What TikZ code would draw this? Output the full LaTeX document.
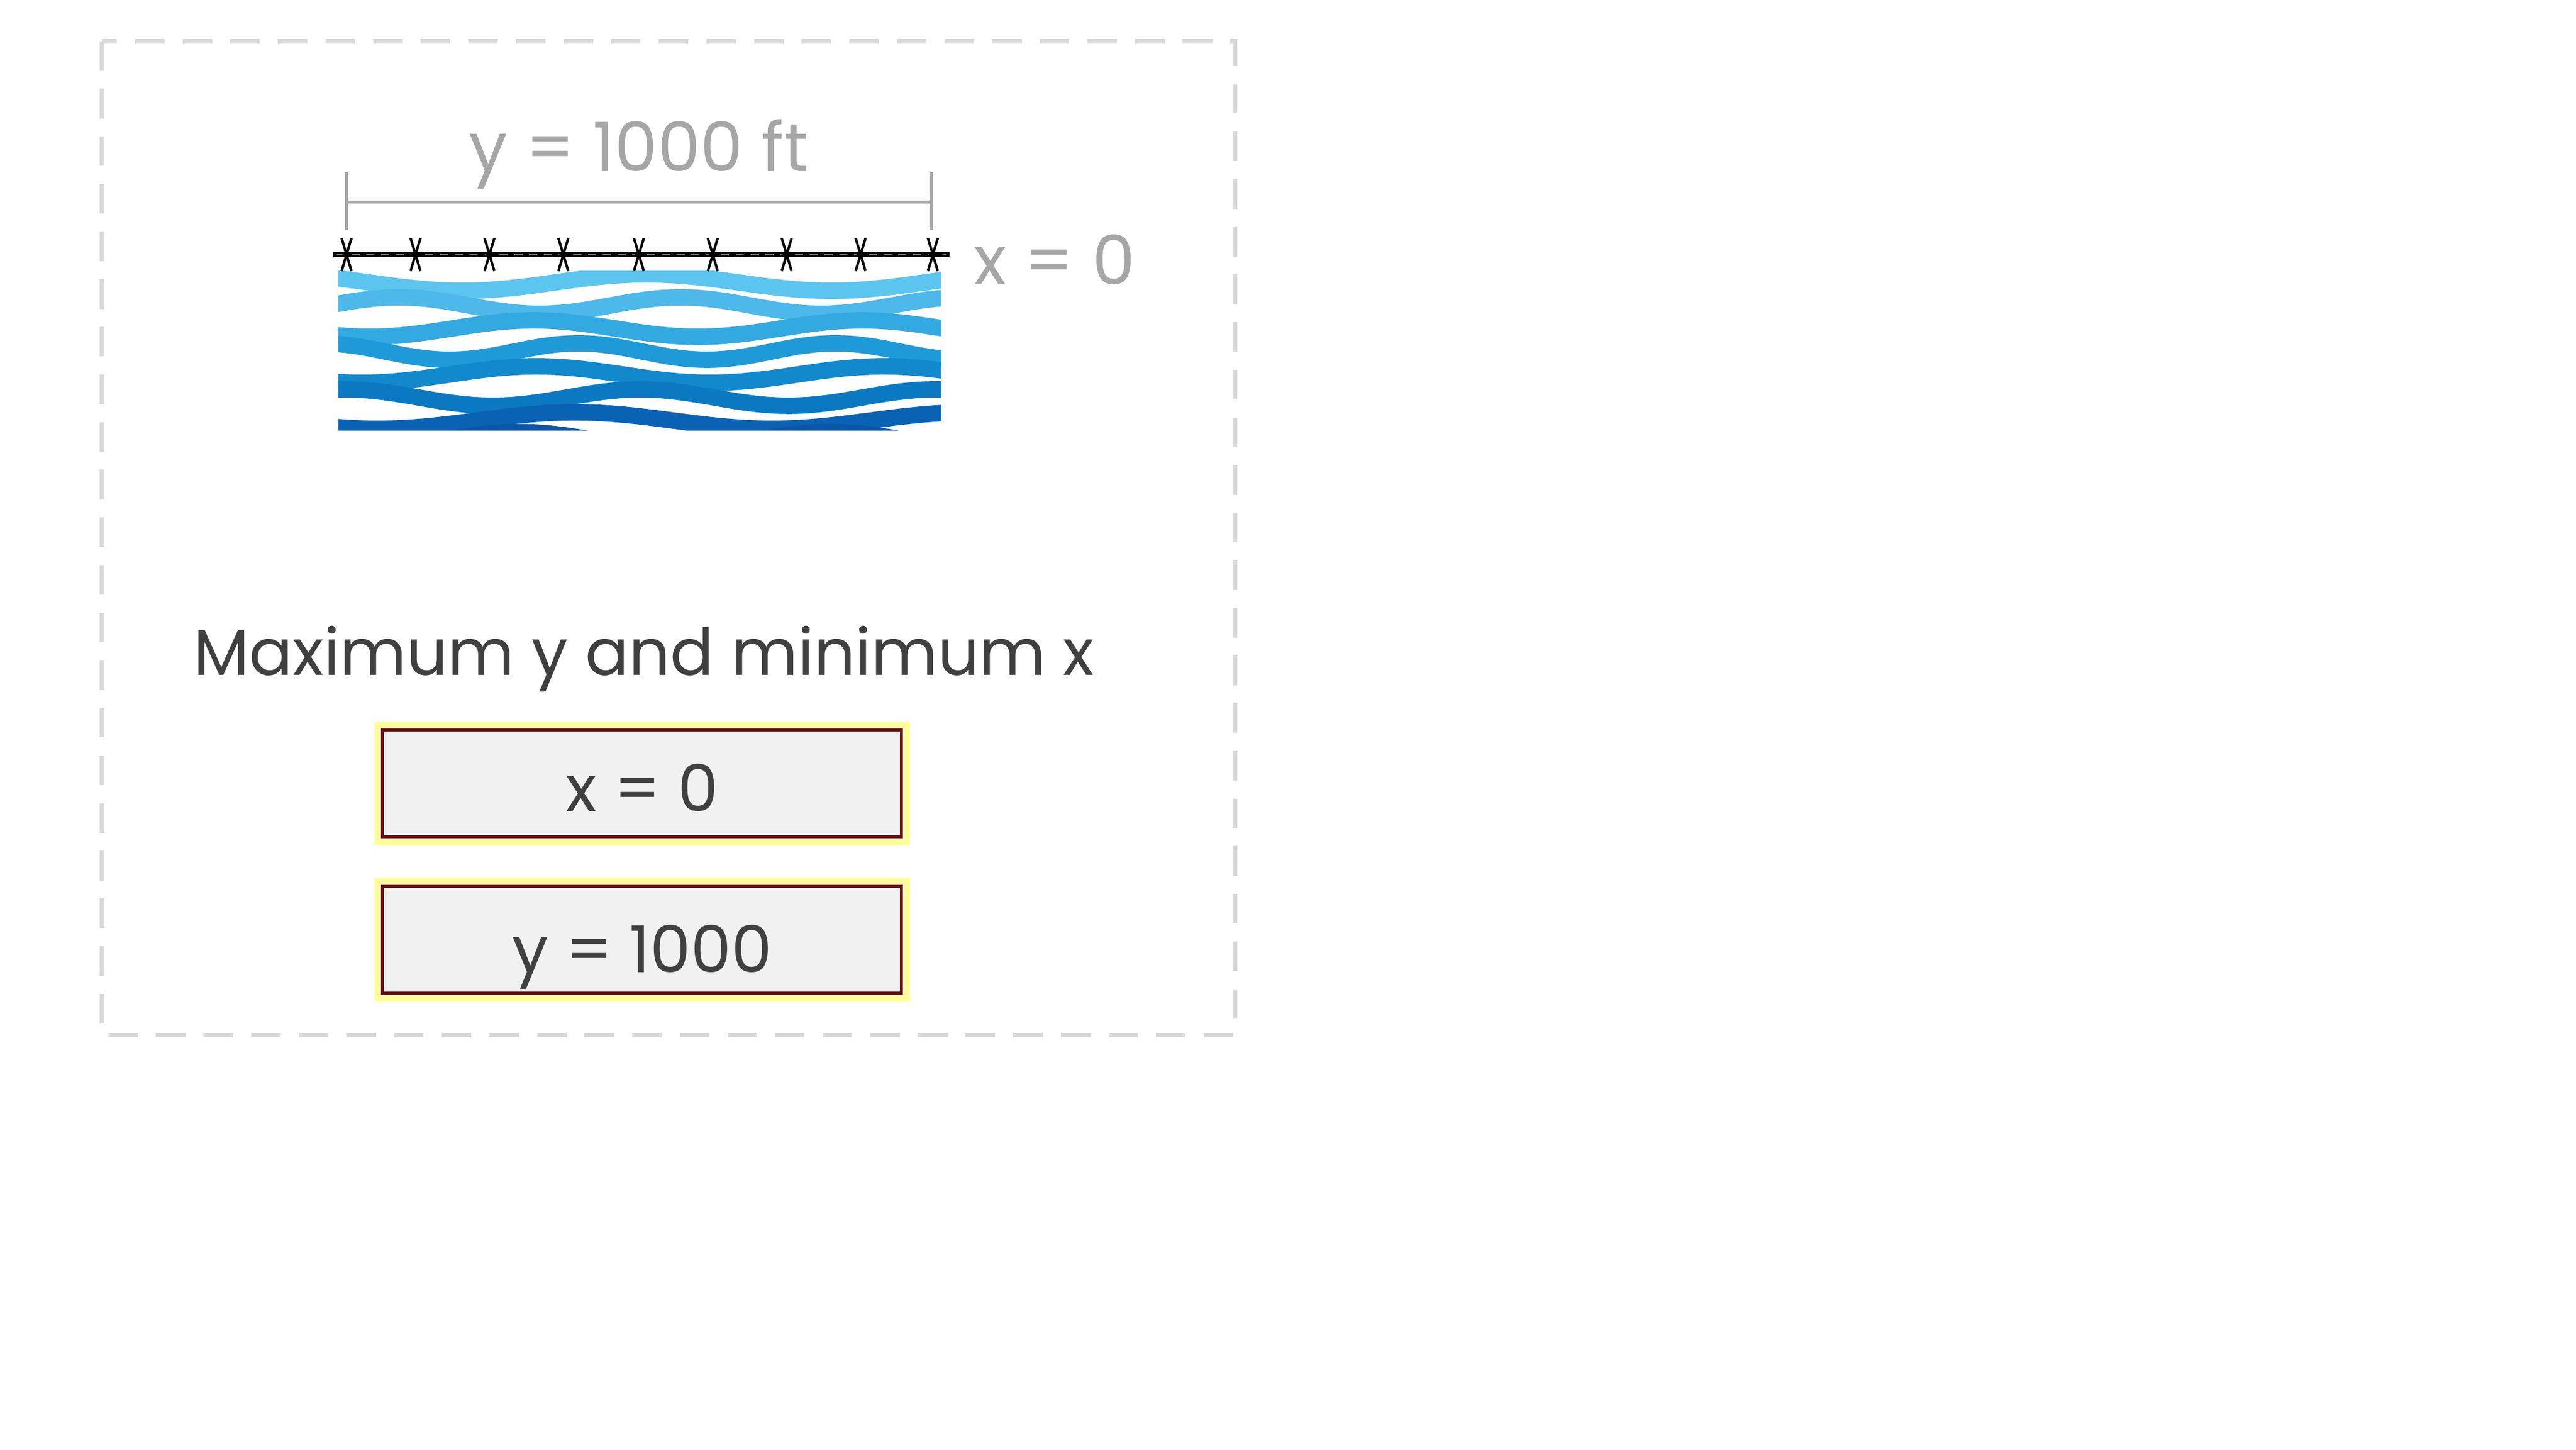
\documentclass[tikz,border=0pt]{standalone}
\usepackage{fontspec}
\setmainfont{Poppins}
\begin{document}
\begin{tikzpicture}[x=0.1cm,y=-0.1cm,
  lbl/.style={text=lightgray,font=\fontsize{118}{130}\selectfont,inner sep=0},
  dark/.style={text=txt,font=\fontsize{112}{130}\selectfont,inner sep=0},
  ansbox/.style={draw=boxred,line width=0.18cm,fill=boxfill,minimum width=31.6cm,minimum height=6.5cm},
  anstext/.style={text=txt,font=\fontsize{112}{130}\selectfont,inner sep=0,anchor=base},
  wave/.style={line width=1.0cm,line cap=round}]
\definecolor{lightgray}{HTML}{A6A6A6}
\definecolor{txt}{HTML}{404040}
\definecolor{boxred}{HTML}{700C02}
\definecolor{boxfill}{HTML}{F1F1F1}
\definecolor{glowy}{HTML}{FFFF99}
\definecolor{dashc}{HTML}{D9D9D9}
\useasboundingbox (0,0) rectangle (1568.5,882.3);
\draw[dashc,line width=0.28cm,dash pattern=on 1.8cm off 1.1cm] (62,25) rectangle (752,630);
% dimension
\node[lbl] (dimlbl) at (389,94) {y = 1000 ft};
\coordinate (dl) at (211,123); \coordinate (dr) at (567,123);
\draw[lightgray,line width=0.2cm] (dl) -- (dr);
\draw[lightgray,line width=0.2cm] (211,105) -- (211,140) (567,105) -- (567,140);
% water
\begin{scope}
\clip (206,165) rectangle (573,262);
\foreach \yy/\c/\ph/\f in {172/5BC5F0/0/1.6,186/4DB8EA/40/2.1,200/33A9E2/15/1.8,214/1F9AD8/60/2.3,228/1289CC/25/1.7,242/0B79C2/70/2.0,256/0A62B5/35/1.5,268/0A55A8/10/1.9}{
  \definecolor{wc}{HTML}{\c}
  \draw[wc,wave] plot[smooth,domain=196:585,samples=50] (\x,{\yy+5*sin(\x*\f+\ph*3)});
}
\end{scope}
% barbed wire
\coordinate (wl) at (203,155); \coordinate (wr) at (578,155);
\draw[black,line width=0.3cm] (wl) -- (wr);
\draw[gray,line width=0.12cm,dash pattern=on 0.5cm off 0.4cm] (205,155) -- (576,155);
\foreach \bx in {211,253,298,343,389,434,479,524,568}{
  \draw[black,line width=0.15cm] (\bx-3,145) -- (\bx+3,165) (\bx+3,145) -- (\bx-3,165);
  \fill[black] (\bx,155) ellipse (0.25cm and 0.2cm);
}
\node[lbl,anchor=west] (x0lbl) at (593,158) {x = 0};
\node[dark] (title) at (392,401) {Maximum y and minimum x};
\node[ansbox] (b1) at (391,477) {};
\draw[glowy,line width=0.35cm] ([shift={(-0.25cm,0.25cm)}]b1.north west) rectangle ([shift={(0.25cm,-0.25cm)}]b1.south east);
\node[ansbox] (b1box) at (391,477) {};
\node[anstext] (t1) at (391,494) {x = 0};
\node[ansbox] (b2) at (391,572) {};
\draw[glowy,line width=0.35cm] ([shift={(-0.25cm,0.25cm)}]b2.north west) rectangle ([shift={(0.25cm,-0.25cm)}]b2.south east);
\node[ansbox] (b2box) at (391,572) {};
\node[anstext] (t2) at (391,592) {y = 1000};
\end{tikzpicture}
\end{document}
